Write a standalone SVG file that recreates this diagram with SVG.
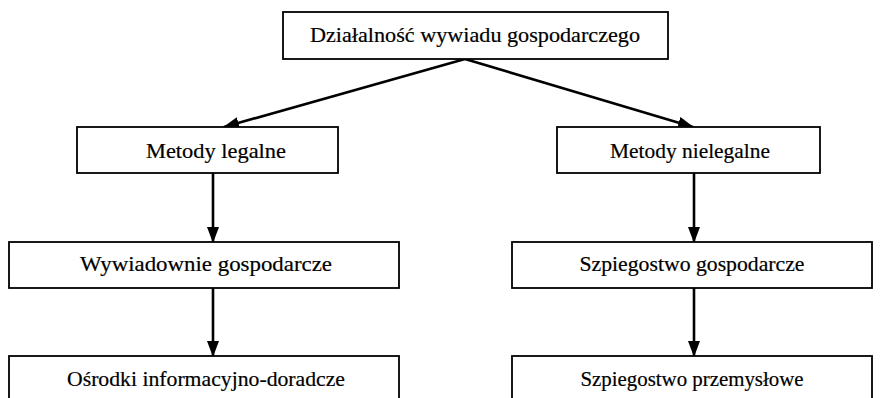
<svg xmlns="http://www.w3.org/2000/svg" width="890" height="398" viewBox="0 0 890 398">
<style>
.box{fill:#fff;stroke:#000;stroke-width:1.8}
.t{font-family:"Liberation Serif","Times New Roman",serif;font-size:21px;fill:#000;text-anchor:middle;stroke:#000;stroke-width:0.2}
.c{stroke:#000;stroke-width:2.6;fill:none;marker-end:url(#ah)}
</style>
<defs>
<marker id="ah" markerWidth="16" markerHeight="12" refX="15" refY="6" orient="auto" markerUnits="userSpaceOnUse">
<path d="M0,0 L16,6 L0,12 Z" fill="#000"/>
</marker>
</defs>
<rect width="890" height="398" fill="#fff"/>
<g id="connectors">
<line class="c" x1="465" y1="59" x2="224" y2="127"/>
<line class="c" x1="465" y1="59" x2="693" y2="127"/>
<line class="c" x1="213" y1="173" x2="213" y2="242"/>
<line class="c" x1="694" y1="173" x2="694" y2="242"/>
<line class="c" x1="213" y1="288" x2="213" y2="356"/>
<line class="c" x1="694" y1="288" x2="694" y2="356"/>
</g>
<g id="n1"><rect class="box" x="283" y="12" width="385" height="47"/><text class="t" x="475" y="42" textLength="330" lengthAdjust="spacingAndGlyphs">Działalność wywiadu gospodarczego</text></g>
<g id="n2"><rect class="box" x="77" y="127" width="261" height="46"/><text class="t" x="216" y="158" textLength="140" lengthAdjust="spacingAndGlyphs">Metody legalne</text></g>
<g id="n3"><rect class="box" x="557" y="127" width="263" height="46"/><text class="t" x="690" y="158" textLength="160" lengthAdjust="spacingAndGlyphs">Metody nielegalne</text></g>
<g id="n4"><rect class="box" x="9" y="242" width="390" height="46"/><text class="t" x="206" y="271" textLength="252" lengthAdjust="spacingAndGlyphs">Wywiadownie gospodarcze</text></g>
<g id="n5"><rect class="box" x="512" y="242" width="360" height="46"/><text class="t" x="692" y="271" textLength="225" lengthAdjust="spacingAndGlyphs">Szpiegostwo gospodarcze</text></g>
<g id="n6"><rect class="box" x="9" y="356" width="390" height="50"/><text class="t" x="206" y="386" textLength="278" lengthAdjust="spacingAndGlyphs">Ośrodki informacyjno-doradcze</text></g>
<g id="n7"><rect class="box" x="512" y="356" width="360" height="50"/><text class="t" x="692" y="386" textLength="223" lengthAdjust="spacingAndGlyphs">Szpiegostwo przemysłowe</text></g>
</svg>
